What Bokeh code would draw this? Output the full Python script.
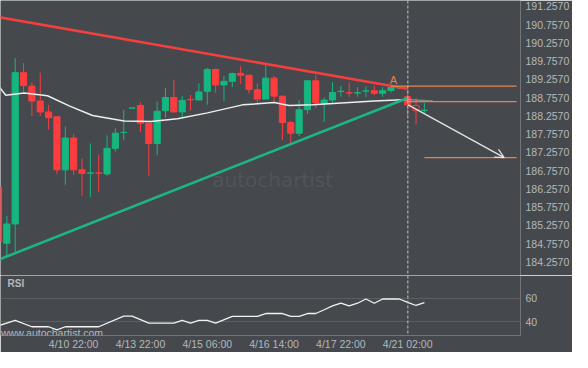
from bokeh.plotting import figure
from bokeh.layouts import column
from bokeh.models import (Range1d, FixedTicker, NumeralTickFormatter, Span, Label,
                          Arrow, OpenHead, ColumnDataSource)
from bokeh.embed import file_html
from bokeh.resources import INLINE

# ---------------- data ----------------
opens = [186.310, 184.768, 185.297, 189.442, 189.072, 188.664, 188.365, 188.233, 186.778, 187.651,
         186.778, 186.689, 186.693, 186.664, 187.368, 187.800, 188.469, 188.543, 188.056, 187.500,
         188.400, 188.762, 188.365, 188.703, 188.691, 188.929, 189.529, 189.106, 189.204, 189.424,
         189.371, 188.974, 188.717, 189.291, 188.797, 188.074, 187.783, 188.426, 189.220, 188.604,
         188.691, 188.927, 188.889, 188.885, 188.938, 188.947, 188.876, 188.955, 189.025, 188.781,
         188.543, 188.408]
highs = [186.310, 185.516, 189.839, 189.707, 189.178, 189.442, 188.559, 188.233, 187.969, 187.765,
         187.088, 187.500, 187.194, 187.723, 187.916, 188.426, 188.473, 188.622, 188.056, 188.649,
         189.019, 189.238, 188.807, 188.834, 189.151, 189.574, 189.556, 189.352, 189.442, 189.617,
         189.371, 189.151, 189.643, 189.352, 188.797, 188.119, 188.691, 189.220, 189.379, 188.762,
         189.178, 189.072, 189.178, 189.045, 189.072, 189.088, 189.045, 189.072, 189.060, 188.974,
         188.736, 188.622]
lows = [184.813, 184.416, 184.503, 188.913, 188.252, 188.252, 187.881, 186.664, 186.373, 186.638,
        186.072, 186.029, 186.178, 186.619, 187.281, 187.590, 188.469, 187.810, 186.619, 187.175,
        188.207, 188.365, 188.207, 188.410, 188.691, 188.559, 188.887, 188.664, 189.045, 189.133,
        188.868, 188.559, 188.717, 188.622, 187.590, 187.500, 187.696, 188.313, 188.471, 188.093,
        188.622, 188.781, 188.781, 188.781, 188.762, 188.823, 188.781, 188.895, 188.990, 188.252,
        188.029, 188.339]
closes = [184.813, 185.297, 189.442, 189.088, 188.664, 188.365, 188.207, 186.778, 187.651, 186.778,
          186.680, 186.693, 186.689, 187.368, 187.783, 187.805, 188.473, 188.056, 187.500, 188.384,
          188.762, 188.365, 188.683, 188.699, 188.913, 189.529, 189.106, 189.204, 189.416, 189.371,
          188.982, 188.717, 189.291, 188.797, 188.074, 187.783, 188.426, 189.220, 188.622, 188.691,
          188.895, 188.931, 188.885, 188.889, 188.942, 188.876, 188.947, 189.035, 189.029, 188.559,
          188.400, 188.412]
projected_idx = [50]          # hollow (forecast) candle

ma_idx = [0.12, 0.87, 3.08, 5.87, 8.47, 11.26, 15.05, 18.24, 21.44, 25.03, 29.22, 33.02, 34.8,
          37.6, 45.0, 49.0]
ma_val = [189.045, 188.823, 188.887, 188.807, 188.532, 188.268, 188.119, 188.101, 188.180,
          188.339, 188.559, 188.622, 188.543, 188.559, 188.664, 188.709]
ma_fade_idx = [49.0, 52.0]
ma_fade_val = [188.709, 188.664]

res_idx = [0.12, 48.98]
res_val = [190.958, 189.000]
sup_idx = [0.12, 49.0]
sup_val = [184.326, 188.749]

level_price = [189.072, 188.649, 187.114]
level_start = [47.0, 49.0, 51.0]
level_end = [62.04, 62.04, 62.04]

arrow_idx = [49.06, 60.56]
arrow_val = [188.559, 187.114]
point_a_idx = 47.3
point_a_val = 189.238
signal_idx = 49.02

rsi_idx = [0, 2, 4, 6, 7, 8, 12, 15, 16, 18, 21, 22, 23, 24, 25, 26, 28, 31, 32, 34,
           35, 36, 37, 38, 39, 40, 41, 42, 43, 44, 45, 46, 47, 48, 49, 50, 51]
rsi_val = [36.5, 41.1, 35.7, 35.7, 33.0, 35.7, 35.7, 44.7, 44.7, 38.7, 38.7, 41.1, 38.7, 41.1,
           41.1, 38.7, 44.4, 44.4, 46.9, 46.9, 44.4, 44.4, 46.9, 46.9, 50.1, 53.4, 55.6, 53.4,
           55.6, 59.2, 55.6, 59.2, 59.2, 59.2, 56.4, 53.7, 56.1]

price_ticks = [184.257, 184.757, 185.257, 185.757, 186.257, 186.757, 187.257, 187.757,
               188.257, 188.757, 189.257, 189.757, 190.257, 190.757, 191.257]
rsi_ticks = [40, 60]
time_tick_idx = [9, 17, 25, 33, 41, 49]
time_tick_labels = ["4/10 22:00", "4/13 22:00", "4/15 06:00", "4/16 14:00", "4/17 22:00",
                    "4/21 02:00"]

# ---------------- style ----------------
BG = "#45484d"
UP = "#15b77f"
DOWN = "#fc3c3e"
ORANGE = "#e8834a"
TXT = "#b5b8bc"
FONT = "Liberation Sans"
FS = "10.5px"

xr = Range1d(0.24, 62.51)


def style_axis(ax):
    ax.axis_line_color = None
    ax.major_tick_line_color = None
    ax.minor_tick_line_color = None
    ax.major_tick_out = 0
    ax.major_tick_in = 0
    ax.minor_tick_out = 0
    ax.minor_tick_in = 0
    ax.major_label_text_color = TXT
    ax.major_label_text_font = FONT
    ax.major_label_text_font_size = FS


# ---------------- price pane ----------------
p = figure(width=572, height=275, x_range=xr, y_range=Range1d(183.884, 191.418),
           output_backend="svg", toolbar_location=None, y_axis_location="right",
           x_axis_location=None, background_fill_color=BG, border_fill_color=BG,
           outline_line_color=None, min_border_left=0, min_border_top=0,
           min_border_bottom=0, min_border_right=52)
p.grid.visible = False
style_axis(p.yaxis[0])
p.yaxis.ticker = FixedTicker(ticks=price_ticks)
p.yaxis.formatter = NumeralTickFormatter(format="0.0000")
p.yaxis.major_label_standoff = 5

n = len(opens)
idx = list(range(n))
tops = [max(o, c) for o, c in zip(opens, closes)]
bots = [min(o, c) for o, c in zip(opens, closes)]
cols = [UP if c >= o else DOWN for o, c in zip(opens, closes)]
fills = [None if i in projected_idx else col for i, col in zip(idx, cols)]
src = ColumnDataSource(dict(x=idx, o=opens, h=highs, l=lows, c=closes, top=tops, bot=bots,
                            col=cols, fill=fills))

p.add_layout(Label(x=25.6, y=186.49, text="autochartist", text_color="#515459",
                   text_font="DejaVu Sans", text_font_size="20px", text_baseline="middle"))

p.segment(x0="x", y0="h", x1="x", y1="top", color="col", line_width=1, source=src)
p.segment(x0="x", y0="bot", x1="x", y1="l", color="col", line_width=1, source=src)
p.vbar(x="x", width=0.74, top="top", bottom="bot", fill_color="fill", line_color="col",
       line_width=1, source=src)

p.line(ma_idx, ma_val, line_color="#eeeeee", line_width=1.5)
p.line(ma_fade_idx, ma_fade_val, line_color="#eeeeee", line_width=1.5, line_alpha=0.35)

p.line(res_idx, res_val, line_color="#f2403f", line_width=2.6)
p.line(sup_idx, sup_val, line_color="#1db584", line_width=2.6)

p.segment(x0=level_start, y0=level_price, x1=level_end, y1=level_price,
          line_color=ORANGE, line_width=1.3)
p.add_layout(Arrow(end=OpenHead(size=9, line_color="#e6e6e6", line_width=1.2),
                   x_start=arrow_idx[0], y_start=arrow_val[0],
                   x_end=arrow_idx[1], y_end=arrow_val[1],
                   line_color="#e6e6e6", line_width=1.2))
p.add_layout(Label(x=point_a_idx, y=point_a_val, text="A", text_color=ORANGE,
                   text_font=FONT, text_font_size="11px", text_align="center",
                   text_baseline="middle"))
p.add_layout(Span(location=signal_idx, dimension="height", line_color="#c4c4c4",
                  line_width=1, line_dash="3 2"))

# ---------------- RSI pane ----------------
r = figure(width=572, height=77, x_range=xr, y_range=Range1d(28.28, 79.1),
           output_backend="svg", toolbar_location=None, y_axis_location="right",
           x_axis_location="below", background_fill_color=BG, border_fill_color=BG,
           outline_line_color=None, min_border_left=0, min_border_top=0,
           min_border_bottom=15, min_border_right=52)
r.xgrid.visible = False
r.ygrid.ticker = FixedTicker(ticks=rsi_ticks)
r.ygrid.grid_line_color = "#5b5e63"
r.ygrid.grid_line_width = 1
style_axis(r.yaxis[0])
r.yaxis.ticker = FixedTicker(ticks=rsi_ticks)
r.yaxis.major_label_standoff = 5
style_axis(r.xaxis[0])
r.xaxis.ticker = FixedTicker(ticks=time_tick_idx)
r.xaxis.major_label_overrides = {i: t for i, t in zip(time_tick_idx, time_tick_labels)}
r.xaxis.major_label_standoff = 2

r.line(rsi_idx, rsi_val, line_color="#f2f2f2", line_width=1.3)
r.add_layout(Span(location=signal_idx, dimension="height", line_color="#c4c4c4",
                  line_width=1, line_dash="3 2"))
r.add_layout(Label(x=1.08, y=72.5, text="RSI", text_color=TXT, text_font=FONT,
                   text_font_size="10px", text_font_style="bold", text_baseline="middle"))
r.add_layout(Label(x=0.3, y=30.7, text="www.autochartist.com", text_color=TXT,
                   text_font=FONT, text_font_size=FS, text_baseline="middle"))

layout = column(p, r, spacing=0)
open("out.html", "w").write(file_html(layout, INLINE))
